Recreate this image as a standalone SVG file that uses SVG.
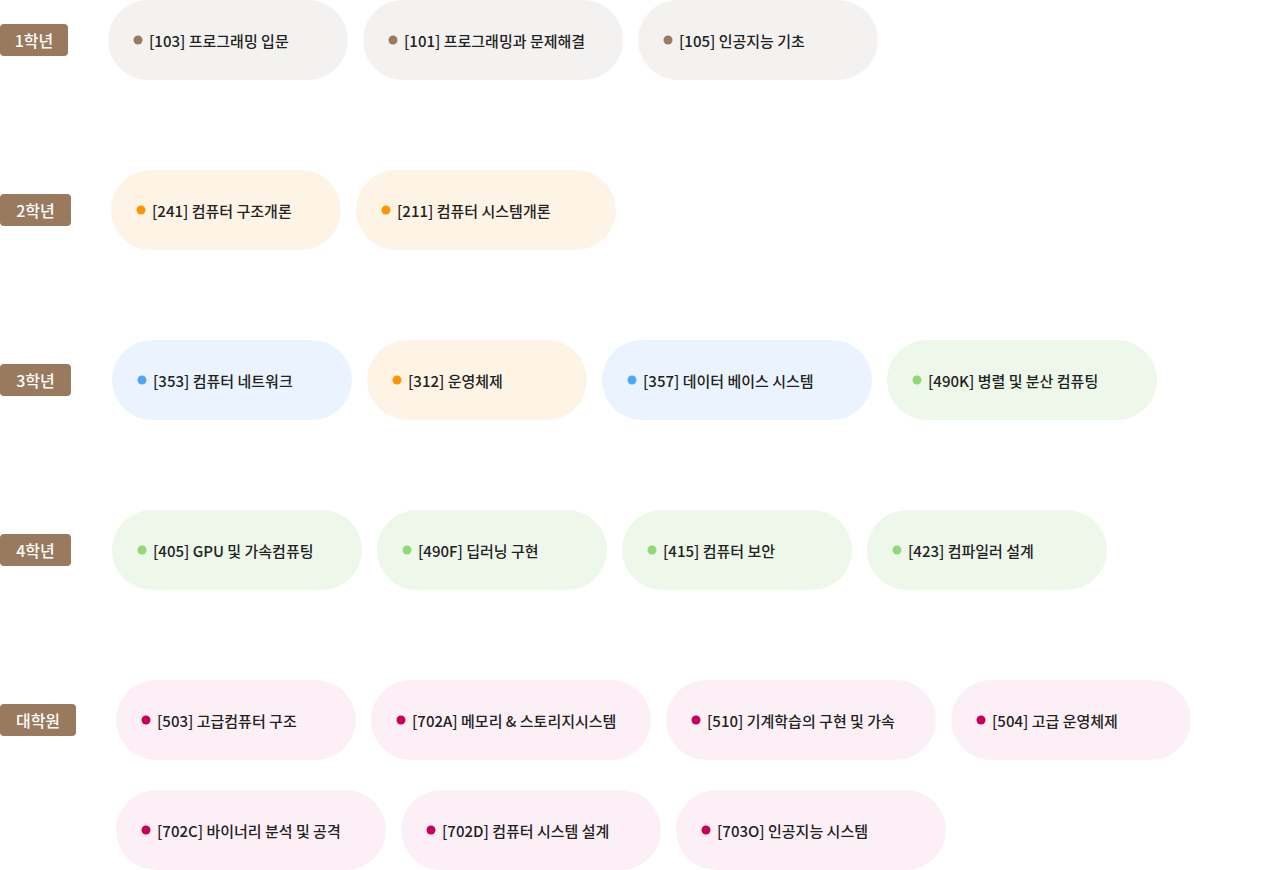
<svg xmlns="http://www.w3.org/2000/svg" width="1278" height="870" viewBox="0 0 1278 870">
<style>
text{font-family:"Noto Sans CJK KR","Noto Sans",sans-serif;font-size:15px;font-weight:500;fill:#222;dominant-baseline:central}
.lb rect{fill:#997a5e}
.lb text{fill:#fff;font-size:16px;text-anchor:middle}
.br rect{fill:#f3f2f0}.br circle{fill:#9b7b5e}
.or rect{fill:#fef4e6}.or circle{fill:#ff9500}
.bl rect{fill:#ebf4fe}.bl circle{fill:#4fa8f7}
.gr rect{fill:#edf7ea}.gr circle{fill:#8fd97a}
.pk rect{fill:#fcf0f6}.pk circle{fill:#c8005a}
</style>
<rect width="1278" height="870" fill="#fff"/>
<g class="lb" id="labels">
<g id="y1"><rect x="0" y="24" width="68" height="32" rx="4"/><text x="34" y="40">1학년</text></g>
<g id="y2"><rect x="0" y="194" width="71" height="32" rx="4"/><text x="35.5" y="210">2학년</text></g>
<g id="y3"><rect x="0" y="364" width="71" height="32" rx="4"/><text x="35.5" y="380">3학년</text></g>
<g id="y4"><rect x="0" y="534" width="71" height="32" rx="4"/><text x="35.5" y="550">4학년</text></g>
<g id="grad"><rect x="0" y="704" width="76" height="32" rx="4"/><text x="38" y="720">대학원</text></g>
</g>
<g id="connectors"></g>
<g class="br">
<g id="c103"><rect x="108" y="0" width="240" height="80" rx="40"/><circle cx="138" cy="40" r="4.5"/><text x="149" y="40">[103] 프로그래밍 입문</text></g>
<g id="c101"><rect x="363" y="0" width="260" height="80" rx="40"/><circle cx="393" cy="40" r="4.5"/><text x="404" y="40">[101] 프로그래밍과 문제해결</text></g>
<g id="c105"><rect x="638" y="0" width="240" height="80" rx="40"/><circle cx="668" cy="40" r="4.5"/><text x="679" y="40">[105] 인공지능 기초</text></g>
</g>
<g class="or">
<g id="c241"><rect x="111" y="170" width="230" height="80" rx="40"/><circle cx="141" cy="210" r="4.5"/><text x="152" y="210">[241] 컴퓨터 구조개론</text></g>
<g id="c211"><rect x="356" y="170" width="260" height="80" rx="40"/><circle cx="386" cy="210" r="4.5"/><text x="397" y="210">[211] 컴퓨터 시스템개론</text></g>
<g id="c312"><rect x="367" y="340" width="220" height="80" rx="40"/><circle cx="397" cy="380" r="4.5"/><text x="408" y="380">[312] 운영체제</text></g>
</g>
<g class="bl">
<g id="c353"><rect x="112" y="340" width="240" height="80" rx="40"/><circle cx="142" cy="380" r="4.5"/><text x="153" y="380">[353] 컴퓨터 네트워크</text></g>
<g id="c357"><rect x="602" y="340" width="270" height="80" rx="40"/><circle cx="632" cy="380" r="4.5"/><text x="643" y="380">[357] 데이터 베이스 시스템</text></g>
</g>
<g class="gr">
<g id="c490K"><rect x="887" y="340" width="270" height="80" rx="40"/><circle cx="917" cy="380" r="4.5"/><text x="928" y="380">[490K] 병렬 및 분산 컴퓨팅</text></g>
<g id="c405"><rect x="112" y="510" width="250" height="80" rx="40"/><circle cx="142" cy="550" r="4.5"/><text x="153" y="550">[405] GPU 및 가속컴퓨팅</text></g>
<g id="c490F"><rect x="377" y="510" width="230" height="80" rx="40"/><circle cx="407" cy="550" r="4.5"/><text x="418" y="550">[490F] 딥러닝 구현</text></g>
<g id="c415"><rect x="622" y="510" width="230" height="80" rx="40"/><circle cx="652" cy="550" r="4.5"/><text x="663" y="550">[415] 컴퓨터 보안</text></g>
<g id="c423"><rect x="867" y="510" width="240" height="80" rx="40"/><circle cx="897" cy="550" r="4.5"/><text x="908" y="550">[423] 컴파일러 설계</text></g>
</g>
<g class="pk">
<g id="c503"><rect x="116" y="680" width="240" height="80" rx="40"/><circle cx="146" cy="720" r="4.5"/><text x="157" y="720">[503] 고급컴퓨터 구조</text></g>
<g id="c702A"><rect x="371" y="680" width="280" height="80" rx="40"/><circle cx="401" cy="720" r="4.5"/><text x="412" y="720">[702A] 메모리 &amp; 스토리지시스템</text></g>
<g id="c510"><rect x="666" y="680" width="270" height="80" rx="40"/><circle cx="696" cy="720" r="4.5"/><text x="707" y="720">[510] 기계학습의 구현 및 가속</text></g>
<g id="c504"><rect x="951" y="680" width="240" height="80" rx="40"/><circle cx="981" cy="720" r="4.5"/><text x="992" y="720">[504] 고급 운영체제</text></g>
<g id="c702C"><rect x="116" y="790" width="270" height="80" rx="40"/><circle cx="146" cy="830" r="4.5"/><text x="157" y="830">[702C] 바이너리 분석 및 공격</text></g>
<g id="c702D"><rect x="401" y="790" width="260" height="80" rx="40"/><circle cx="431" cy="830" r="4.5"/><text x="442" y="830">[702D] 컴퓨터 시스템 설계</text></g>
<g id="c703O"><rect x="676" y="790" width="270" height="80" rx="40"/><circle cx="706" cy="830" r="4.5"/><text x="717" y="830">[703O] 인공지능 시스템</text></g>
</g>
</svg>
